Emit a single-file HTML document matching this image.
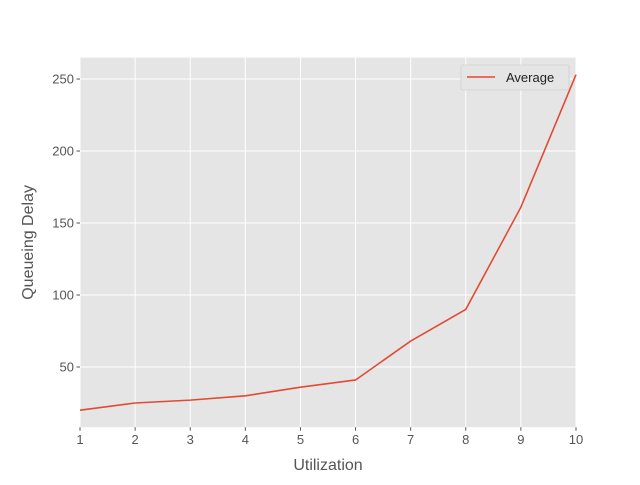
<!DOCTYPE html>
<html><head><meta charset="utf-8"><style>
body{margin:0;background:#fff;}
text{font-family:"Liberation Sans","DejaVu Sans",sans-serif;}
</style></head><body>
<svg id="c" width="640" height="480" xmlns="http://www.w3.org/2000/svg"></svg>
<script>
const xValues=[1,2,3,4,5,6,7,8,9,10];
const avgValues=[20,25,27,30,36,41,68,90,161,253];
const xTicks=[1,2,3,4,5,6,7,8,9,10];
const yTicks=[50,100,150,200,250];
const L=80,R=576,T=57.6,B=427.2,xMin=1,xMax=10,yMin=8.2,yMax=264.9;
const sx=v=>L+(v-xMin)/(xMax-xMin)*(R-L);
const sy=v=>B-(v-yMin)/(yMax-yMin)*(B-T);
const svg=document.getElementById('c');const NS='http://www.w3.org/2000/svg';
function mk(t,a,p){const e=document.createElementNS(NS,t);for(const k in a)e.setAttribute(k,a[k]);(p||svg).appendChild(e);return e;}
const bg=mk('rect',{x:L,y:T,width:R-L,height:B-T,fill:'#e5e5e5'});


xTicks.forEach(v=>{const x=sx(v);
const g=mk('line',{x1:x,x2:x,y1:T,y2:B,stroke:'#fff','stroke-width':1});


mk('line',{x1:x,x2:x,y1:B,y2:B+3.5,stroke:'#555'});
const t=mk('text',{x:x,y:B+17,'text-anchor':'middle','font-size':13,fill:'#555'});t.textContent=v;

});
yTicks.forEach(v=>{const y=sy(v);
const g=mk('line',{x1:L,x2:R,y1:y,y2:y,stroke:'#fff','stroke-width':1});


mk('line',{x1:L-3.5,x2:L,y1:y,y2:y,stroke:'#555'});
const t=mk('text',{x:L-6,y:y+4.5,'text-anchor':'end','font-size':13,fill:'#555'});t.textContent=v;

});
const pts=xValues.map((x,i)=>sx(x)+','+sy(avgValues[i])).join(' ');
const line=mk('polyline',{points:pts,fill:'none',stroke:'#e24a33','stroke-width':1.6});


const xt=mk('text',{x:(L+R)/2,y:470,'text-anchor':'middle','font-size':16,fill:'#555'});xt.textContent='Utilization';


const yt=mk('text',{x:33,y:(T+B)/2,'text-anchor':'middle','font-size':16,fill:'#555',transform:'rotate(-90 33 '+(T+B)/2+')'});yt.textContent='Queueing Delay';


const lg=mk('g',{});


mk('rect',{x:461,y:65,width:108,height:25,rx:2,fill:'#e5e5e5',stroke:'#d0d0d0','stroke-width':0.8},lg);
mk('line',{x1:467,x2:495,y1:77,y2:77,stroke:'#e24a33','stroke-width':1.6},lg);
const lt=mk('text',{x:506,y:82,'font-size':13,fill:'#222'},lg);lt.textContent='Average';


</script>
</body></html>
